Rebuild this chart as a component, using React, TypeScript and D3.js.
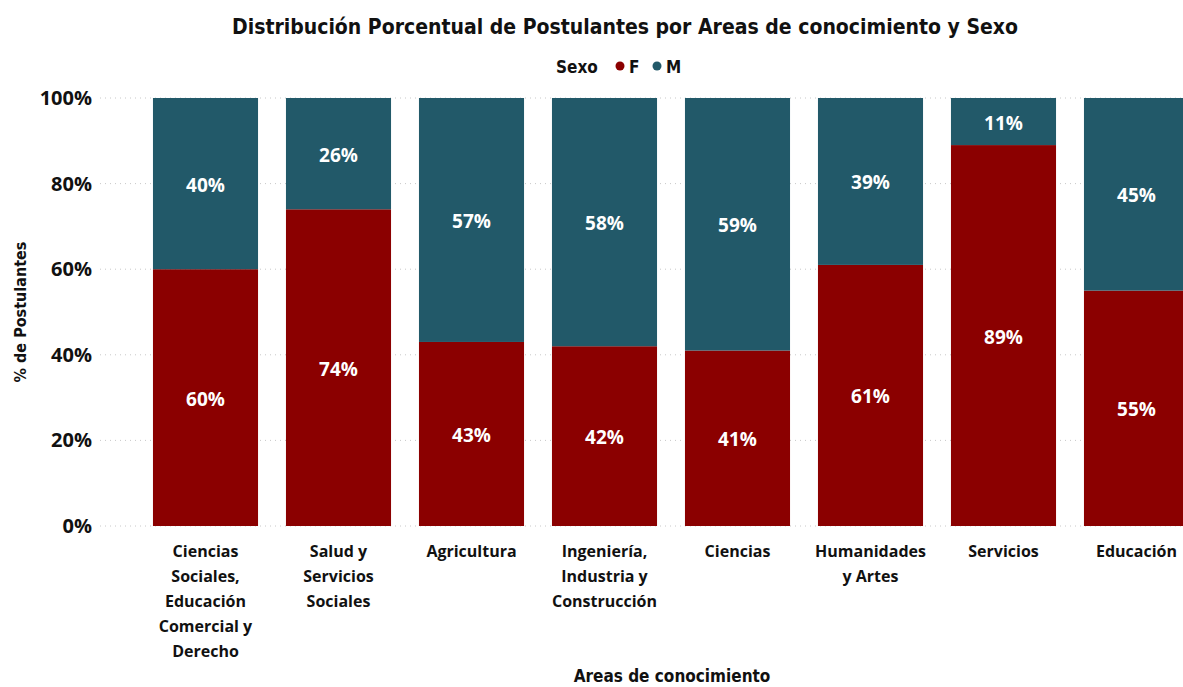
import React from "react";
import * as d3 from "d3";

const categories = [
  ["Ciencias", "Sociales,", "Educación", "Comercial y", "Derecho"],
  ["Salud y", "Servicios", "Sociales"],
  ["Agricultura"],
  ["Ingeniería,", "Industria y", "Construcción"],
  ["Ciencias"],
  ["Humanidades", "y Artes"],
  ["Servicios"],
  ["Educación"],
];
const femaleValues = [60, 74, 43, 42, 41, 61, 89, 55];
const maleValues = [40, 26, 57, 58, 59, 39, 11, 45];
const yTicks = [0, 20, 40, 60, 80, 100];

const W = 1183;
const H = 687;
const COLOR_F = "#8B0000";
const COLOR_M = "#225969";
const TITLE_FONT = "'DejaVu Sans Condensed', 'DejaVu Sans', sans-serif";
const LABEL_FONT = "'Open Sans', 'Noto Sans', sans-serif";

export default function App() {
  const keys = categories.map((c) => c.join(" "));
  const x = d3
    .scaleBand<string>()
    .domain(keys)
    .range([139, 139 + 133 * 8])
    .paddingInner(0.21)
    .paddingOuter(0.105);
  const y = d3.scaleLinear().domain([0, 100]).range([526, 98]);

  return (
    <div style={{ position: "fixed", left: 0, top: 0, width: W, height: H, background: "#fff" }}>
      <svg width={W} height={H} style={{ display: "block" }}>
        <text
          x={625}
          y={34}
          textAnchor="middle"
          fontFamily={TITLE_FONT}
          fontWeight="bold"
          fontSize={21}
          fill="#111"
        >
          Distribución Porcentual de Postulantes por Areas de conocimiento y Sexo
        </text>
        {/* legend */}
        <g fontFamily={TITLE_FONT} fontWeight="bold" fontSize={17} fill="#111">
          <text x={556} y={73}>Sexo</text>
          <circle cx={620} cy={66} r={4.5} fill={COLOR_F} />
          <text x={629} y={73}>F</text>
          <circle cx={657} cy={66} r={4.5} fill={COLOR_M} />
          <text x={666} y={73}>M</text>
        </g>
        {/* gridlines */}
        {yTicks.map((t) => (
          <line
            key={t}
            x1={100}
            x2={W}
            y1={y(t)}
            y2={y(t)}
            stroke="#c8c8c8"
            strokeWidth={1}
            strokeDasharray="1 4"
          />
        ))}
        {/* y tick labels */}
        {yTicks.map((t) => (
          <text
            key={t}
            x={92}
            y={y(t) + 7}
            textAnchor="end"
            fontFamily={LABEL_FONT}
            fontWeight="bold"
            fontSize={20}
            fill="#111"
          >
            {t}%
          </text>
        ))}
        <text
          transform={`translate(26,312) rotate(-90)`}
          textAnchor="middle"
          fontFamily={TITLE_FONT}
          fontWeight="bold"
          fontSize={16}
          fill="#111"
        >
          % de Postulantes
        </text>
        {/* bars */}
        {keys.map((k, i) => {
          const x0 = x(k)!;
          const bw = x.bandwidth();
          const f = femaleValues[i];
          const m = maleValues[i];
          const cx = x0 + bw / 2;
          return (
            <g key={k}>
              <rect x={x0} y={y(f)} width={bw} height={y(0) - y(f)} fill={COLOR_F} />
              <rect x={x0} y={y(f + m)} width={bw} height={y(f) - y(f + m)} fill={COLOR_M} />
              <text
                x={cx}
                y={(y(0) + y(f)) / 2 + 8}
                textAnchor="middle"
                fontFamily={LABEL_FONT}
                fontWeight="bold"
                fontSize={19}
                fill="#fff"
              >
                {f}%
              </text>
              <text
                x={cx}
                y={(y(f) + y(f + m)) / 2 + 8}
                textAnchor="middle"
                fontFamily={LABEL_FONT}
                fontWeight="bold"
                fontSize={19}
                fill="#fff"
              >
                {m}%
              </text>
              {categories[i].map((line, j) => (
                <text
                  key={j}
                  x={cx}
                  y={557 + j * 25}
                  textAnchor="middle"
                  fontFamily={LABEL_FONT}
                  fontWeight="bold"
                  fontSize={16}
                  fill="#111"
                >
                  {line}
                </text>
              ))}
            </g>
          );
        })}
        <text
          x={672}
          y={682}
          textAnchor="middle"
          fontFamily={TITLE_FONT}
          fontWeight="bold"
          fontSize={17}
          fill="#111"
        >
          Areas de conocimiento
        </text>
      </svg>
    </div>
  );
}
